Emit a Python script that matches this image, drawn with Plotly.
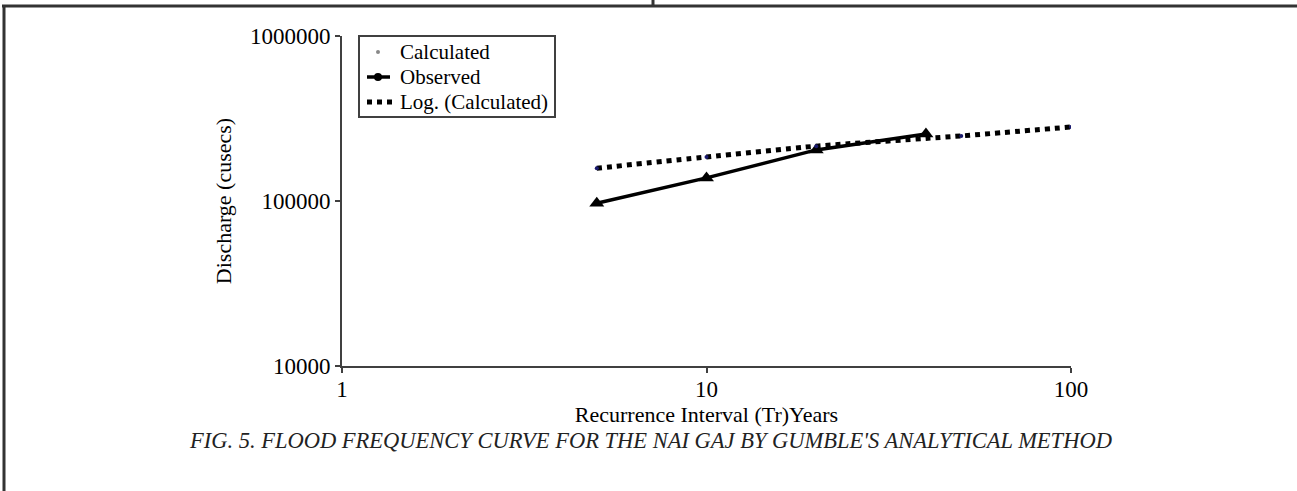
import plotly.graph_objects as go

# recurrence interval (years) and discharge (cusecs)
calc_years = [5, 10, 20, 50, 100]
calc_discharge = [158000, 185000, 215000, 248000, 281000]

obs_years = [5, 10, 20, 40]
obs_discharge = [97000, 138000, 204000, 255000]

y_ticks = [10000, 100000, 1000000]
y_tick_text = ["10000", "100000", "1000000"]
x_ticks = [1, 10, 100]
x_tick_text = ["1", "10", "100"]

legend_names = ["Calculated", "Observed", "Log. (Calculated)"]

FONT = "Liberation Serif, Times New Roman, serif"
AXIS_COL = "#404040"

# plot area in page pixels, used to place the hand-made legend and frame
L, R, T, B = 342, 1071, 36, 366


def px(x):
    return (x - L) / (R - L)


def py(y):
    return (B - y) / (B - T)


fig = go.Figure()

# log trend of the calculated values, drawn through the calculated points
fig.add_trace(go.Scatter(
    x=calc_years, y=calc_discharge, mode="lines",
    line=dict(color="black", width=5, dash="dot", shape="spline", smoothing=0.6),
    showlegend=False, hoverinfo="skip"))

fig.add_trace(go.Scatter(
    x=obs_years, y=obs_discharge, mode="lines+markers",
    line=dict(color="black", width=3.5),
    marker=dict(symbol="triangle-up", size=13, color="black"),
    showlegend=False))

fig.add_trace(go.Scatter(
    x=calc_years, y=calc_discharge, mode="markers",
    marker=dict(symbol="circle", size=4, color="#1a1a6e"),
    showlegend=False))

fig.update_xaxes(
    type="log", range=[0, 2],
    tickvals=x_ticks, ticktext=x_tick_text,
    showline=True, linecolor=AXIS_COL, linewidth=2,
    ticks="outside", tickcolor=AXIS_COL, ticklen=5, tickwidth=2,
    ticklabelstandoff=-4,
    showgrid=False, zeroline=False,
    tickfont=dict(family=FONT, size=23, color="black"),
    title=dict(text="Recurrence Interval (Tr)Years",
               font=dict(family=FONT, size=22, color="black"), standoff=2),
)
fig.update_yaxes(
    type="log", range=[4, 6],
    tickvals=y_ticks, ticktext=y_tick_text,
    showline=True, linecolor=AXIS_COL, linewidth=2,
    ticks="outside", tickcolor=AXIS_COL, ticklen=5, tickwidth=2,
    showgrid=False, zeroline=False,
    tickfont=dict(family=FONT, size=23, color="black"),
    title=dict(text="Discharge (cusecs)",
               font=dict(family=FONT, size=22, color="black"), standoff=12),
)

# legend box drawn by hand so its rows sit as tight as in the reference
row_y = [52, 77, 102]
annotations = [
    dict(text=name, xref="paper", yref="paper", x=px(398), y=py(yy),
         xanchor="left", yanchor="middle", showarrow=False,
         font=dict(family=FONT, size=21, color="black"))
    for name, yy in zip(legend_names, row_y)
]
annotations.append(dict(
    text="FIG. 5. FLOOD FREQUENCY CURVE FOR THE NAI GAJ BY GUMBLE'S ANALYTICAL METHOD",
    xref="paper", yref="paper", x=px(650), y=-0.225,
    xanchor="center", yanchor="middle", showarrow=False,
    font=dict(family=FONT, size=22.5, color="#222222", style="italic"),
))

line_col = dict(color="#333333", width=3)
shapes = [
    # page frame
    dict(type="line", xref="paper", yref="paper", x0=px(2), x1=px(1300),
         y0=py(6), y1=py(6), line=line_col),
    dict(type="line", xref="paper", yref="paper", x0=px(4), x1=px(4),
         y0=py(6), y1=py(495), line=line_col),
    dict(type="line", xref="paper", yref="paper", x0=px(653), x1=px(653),
         y0=py(6), y1=py(-2), line=line_col),
    # legend
    dict(type="rect", xref="paper", yref="paper", x0=px(359), x1=px(555),
         y0=py(36), y1=py(117), line=dict(color=AXIS_COL, width=2), fillcolor="white"),
    dict(type="circle", xref="paper", yref="paper", x0=px(376), x1=px(380),
         y0=py(50), y1=py(54), line=dict(width=0), fillcolor="#888888"),
    dict(type="line", xref="paper", yref="paper", x0=px(367), x1=px(390),
         y0=py(77), y1=py(77), line=dict(color="black", width=3.5)),
    dict(type="circle", xref="paper", yref="paper", x0=px(374), x1=px(382),
         y0=py(73), y1=py(81), line=dict(width=0), fillcolor="black"),
    dict(type="line", xref="paper", yref="paper", x0=px(367), x1=px(392),
         y0=py(102), y1=py(102), line=dict(color="black", width=5, dash="dot")),
]

fig.update_layout(
    width=1297, height=491,
    margin=dict(l=L, r=1297 - R, t=T, b=491 - B),
    plot_bgcolor="white", paper_bgcolor="white",
    font=dict(family=FONT, color="black"),
    showlegend=False,
    annotations=annotations,
    shapes=shapes,
)

fig.write_html("out.html", config={"displayModeBar": False},
               post_script="document.body.style.margin='0';")
